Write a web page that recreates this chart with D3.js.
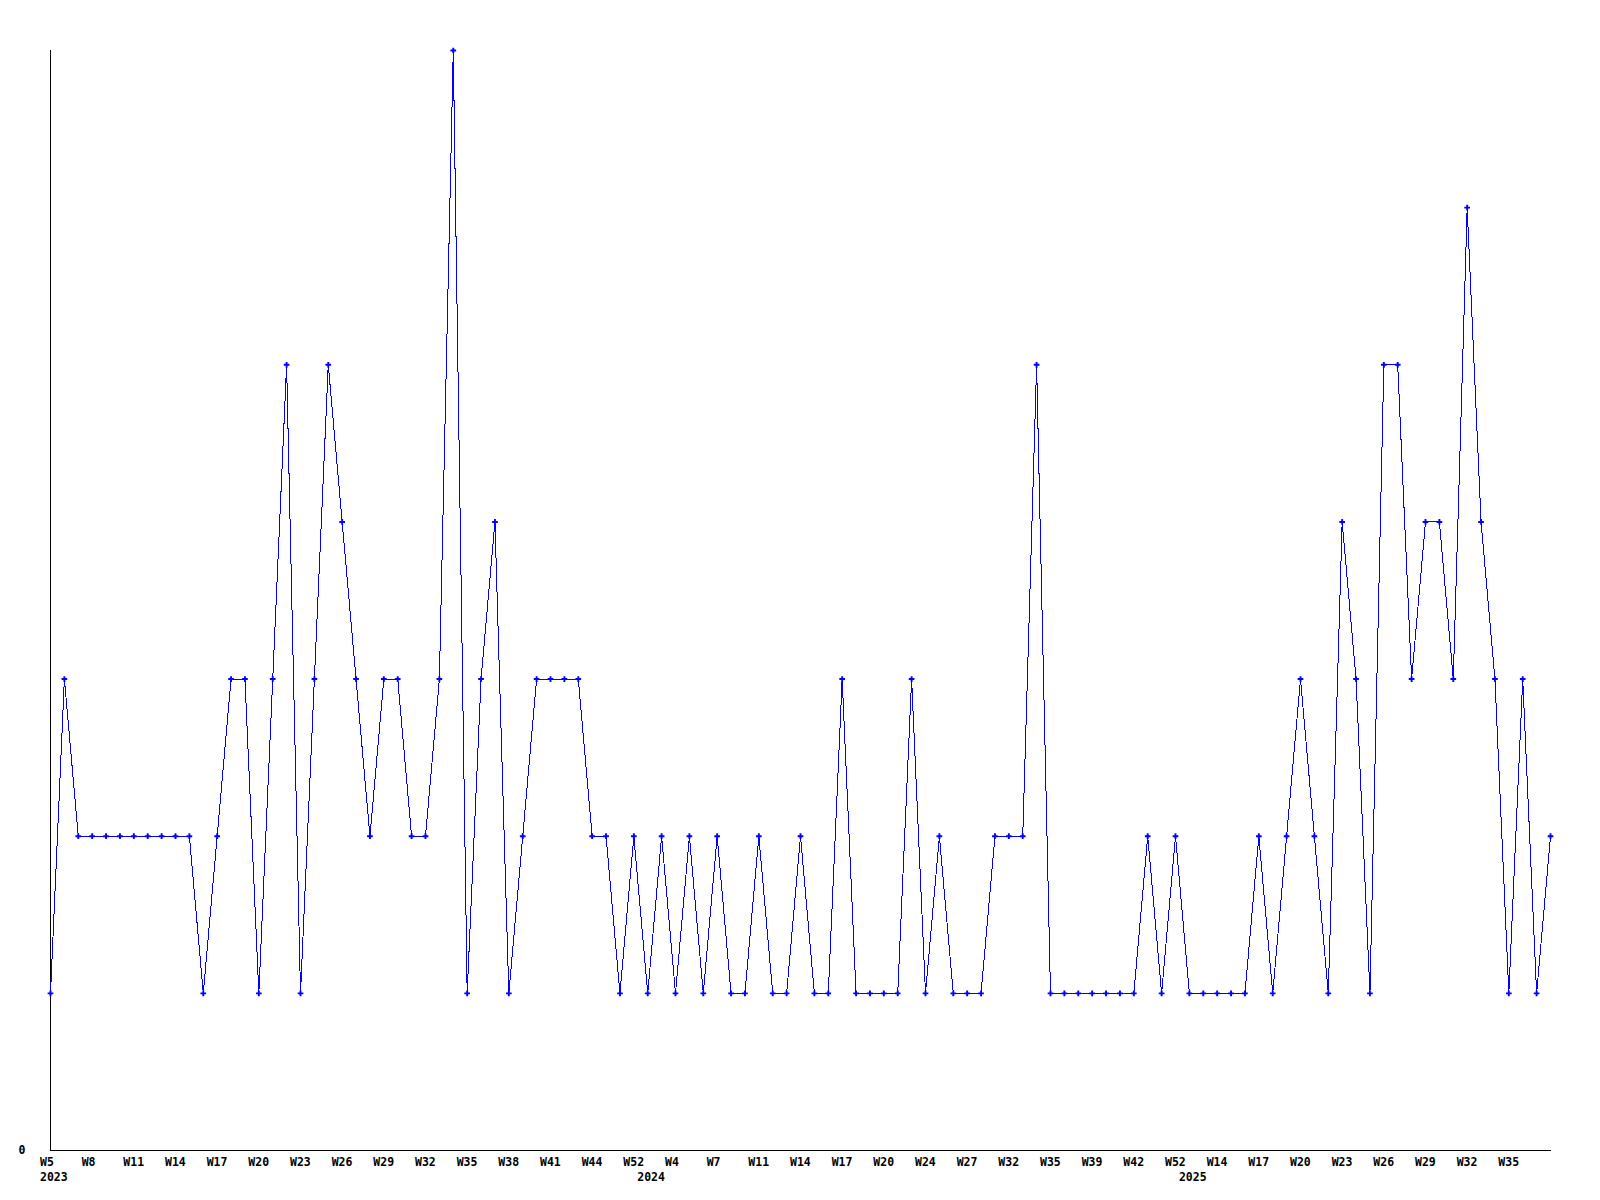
<!DOCTYPE html>
<html>
<head>
<meta charset="utf-8">
<script src="https://cdn.jsdelivr.net/npm/d3@7"></script>
<style>
  html, body { margin: 0; padding: 0; background: #fff; }
  svg { display: block; }
  .lbl { font-family: "DejaVu Sans Mono", "Liberation Mono", monospace; font-weight: bold; font-size: 11.5px; fill: #000; }
</style>
</head>
<body>
<svg id="chart" width="1600" height="1200"></svg>
<script>
//Weekly values, one per data point
const values = [
    1, 3, 2, 2, 2, 2, 2, 2, 2, 2,
    2, 1, 2, 3, 3, 1, 3, 5, 1, 3,
    5, 4, 3, 2, 3, 3, 2, 2, 3, 7,
    1, 3, 4, 1, 2, 3, 3, 3, 3, 2,
    2, 1, 2, 1, 2, 1, 2, 1, 2, 1,
    1, 2, 1, 1, 2, 1, 1, 3, 1, 1,
    1, 1, 3, 1, 2, 1, 1, 1, 2, 2,
    2, 5, 1, 1, 1, 1, 1, 1, 1, 2,
    1, 2, 1, 1, 1, 1, 1, 2, 1, 2,
    3, 2, 1, 4, 3, 1, 5, 5, 3, 4,
    4, 3, 6, 4, 3, 1, 3, 1, 2
];

//Week labels, one for every third point
const weekLabels = [
    'W5', 'W8', 'W11', 'W14', 'W17', 'W20', 'W23', 'W26', 'W29', 'W32',
    'W35', 'W38', 'W41', 'W44', 'W52', 'W4', 'W7', 'W11', 'W14', 'W17',
    'W20', 'W24', 'W27', 'W32', 'W35', 'W39', 'W42', 'W52', 'W14', 'W17',
    'W20', 'W23', 'W26', 'W29', 'W32', 'W35'
];
const labelEvery = 3;

//Years and the point where each one starts
const years = ['2023', '2024', '2025'];
const yearStart = [0, 43, 82];

const yTicks = [0];
const yMax = 7;

const plotLeft = 50, plotRight = 1550, plotTop = 50, plotBottom = 1150;

var svg = d3.select('#chart');

var x = d3.scaleLinear()
    .domain([0, values.length - 1])
    .range([plotLeft, plotRight]);

var y = d3.scaleLinear()
    .domain([0, yMax])
    .range([plotBottom, plotTop]);

//Axis lines
svg.append('line')
    .attr('x1', plotLeft + 0.5).attr('x2', plotLeft + 0.5)
    .attr('y1', plotTop).attr('y2', plotBottom)
    .attr('stroke', '#000')
    .attr('shape-rendering', 'crispEdges');

svg.append('line')
    .attr('x1', plotLeft).attr('x2', plotRight + 1)
    .attr('y1', plotBottom + 0.5).attr('y2', plotBottom + 0.5)
    .attr('stroke', '#000')
    .attr('shape-rendering', 'crispEdges');

//Y tick label(s)
svg.selectAll('.ylbl')
    .data(yTicks)
    .enter().append('text')
    .attr('class', 'lbl')
    .attr('x', 22)
    .attr('y', function(d) { return y(d); })
    .attr('text-anchor', 'middle')
    .attr('dominant-baseline', 'middle')
    .text(function(d) { return d; });

//Week labels under every third point
svg.selectAll('.xlbl')
    .data(weekLabels)
    .enter().append('text')
    .attr('class', 'lbl')
    .attr('x', function(d, i) { return x(i * labelEvery) - 10; })
    .attr('y', 1162)
    .attr('dominant-baseline', 'middle')
    .text(function(d) { return d; });

//Year labels
svg.selectAll('.yearlbl')
    .data(years)
    .enter().append('text')
    .attr('class', 'lbl')
    .attr('x', function(d, i) { return x(yearStart[i]) - 10; })
    .attr('y', 1177)
    .attr('dominant-baseline', 'middle')
    .text(function(d) { return d; });

//The line
svg.append('path')
    .datum(values)
    .attr('fill', 'none')
    .attr('stroke', '#0000ff')
    .attr('stroke-width', 1)
    .attr('shape-rendering', 'crispEdges')
    .attr('d', d3.line()
        .x(function(d, i) { return x(i) + 0.5; })
        .y(function(d) { return y(d) + 0.5; }));

//Markers
svg.selectAll('.pt')
    .data(values)
    .enter().append('path')
    .attr('class', 'pt')
    .attr('transform', function(d, i) { return 'translate(' + (x(i) + 0.5) + ',' + (y(d) + 0.5) + ')'; })
    .attr('d', d3.symbol().type(d3.symbolCross).size(18))
    .attr('fill', '#0000ff');
</script>
</body>
</html>
